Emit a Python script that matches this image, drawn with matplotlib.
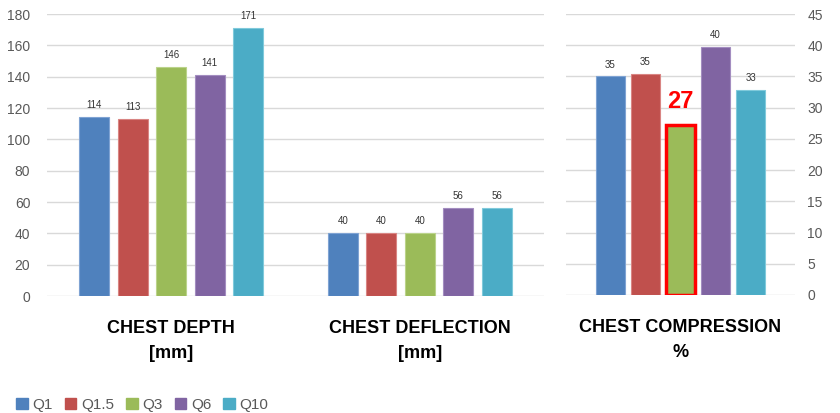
import numpy as np
import matplotlib
matplotlib.use('Agg')
import matplotlib.pyplot as plt
from matplotlib.patches import Patch

plt.rcParams['font.family'] = ['Liberation Sans', 'DejaVu Sans']

series = ['Q1', 'Q1.5', 'Q3', 'Q6', 'Q10']
colors = ['#4F81BD', '#C0504D', '#9BBB59', '#8064A2', '#4BACC6']
edges = ['#7FA3D3', '#D98583', '#BBD38B', '#A38DC0', '#80CADB']

left_categories = ['CHEST DEPTH\n[mm]', 'CHEST DEFLECTION\n[mm]']
depth = [114, 113, 146, 141, 171]
deflection = [40, 40, 40, 56, 56]

right_category = ['CHEST COMPRESSION\n%']
compression = [35.0, 35.4, 27.2, 39.7, 32.9]

fig = plt.figure(figsize=(8.4, 4.13), dpi=100)
ax1 = fig.add_axes([47 / 840, 1 - 296 / 413, (544 - 47) / 840, 282 / 413])
ax2 = fig.add_axes([566 / 840, 1 - 295 / 413, (795 - 566) / 840, 281 / 413])

tick_color = '#595959'
label_color = '#333333'

# left panel: depth and deflection
x = np.arange(len(left_categories))
w = 0.121
pitch = 0.155
offsets = (np.arange(len(series)) - 2) * pitch
for i, s in enumerate(series):
    vals = [depth[i], deflection[i]]
    ax1.bar(x + offsets[i], vals, width=w, color=colors[i], edgecolor=edges[i],
            linewidth=0.8, zorder=3)
    for xi, v in zip(x + offsets[i], vals):
        ax1.text(xi, v + 4.5, f'{v:.0f}', ha='center', va='bottom', fontsize=7,
                 color=label_color)

ax1.set_xlim(-0.5, 1.5)
ax1.set_ylim(0, 180)
ax1.set_yticks(np.arange(0, 181, 20))
ax1.set_xticks(x)
ax1.set_xticklabels(left_categories, fontsize=13, fontweight='bold', color='black',
                    linespacing=1.65)

# right panel: compression
w2 = 0.125
pitch2 = 0.153
offsets2 = (np.arange(len(series)) - 2) * pitch2
for i, s in enumerate(series):
    v = compression[i]
    if s == 'Q3':
        ax2.bar(offsets2[i], v, width=w2, color=colors[i], edgecolor='#FF0000',
                linewidth=2.5, zorder=3)
        ax2.text(offsets2[i], v + 2.0, f'{v:.0f}', ha='center', va='bottom',
                 fontsize=17, fontweight='bold', color='#FF0000')
    else:
        ax2.bar(offsets2[i], v, width=w2, color=colors[i], edgecolor=edges[i],
                linewidth=0.8, zorder=3)
        ax2.text(offsets2[i], v + 1.1, f'{v:.0f}', ha='center', va='bottom',
                 fontsize=7, color=label_color)

ax2.set_xlim(-0.5, 0.5)
ax2.set_ylim(0, 45)
ax2.set_yticks(np.arange(0, 46, 5))
ax2.yaxis.tick_right()
ax2.set_xticks([0])
ax2.set_xticklabels(right_category, fontsize=13, fontweight='bold', color='black',
                    linespacing=1.65)

for ax, pad in ((ax1, 12), (ax2, 9)):
    for sp in ax.spines.values():
        sp.set_visible(False)
    ax.grid(axis='y', color='#D9D9D9', linewidth=1, zorder=0)
    ax.tick_params(axis='y', length=0, labelsize=10, labelcolor=tick_color, pad=pad)
    ax.tick_params(axis='x', length=0, pad=17)
    ax.set_axisbelow(True)

handles = [Patch(facecolor=c, edgecolor=c, label=s) for s, c in zip(series, colors)]
fig.legend(handles=handles, loc='lower left', bbox_to_anchor=(0.003, -0.03), ncol=5,
           frameon=False, fontsize=11, handlelength=0.75, handleheight=0.75,
           handletextpad=0.3, columnspacing=0.8, labelcolor=tick_color)

fig.savefig('out.png', dpi=100)
